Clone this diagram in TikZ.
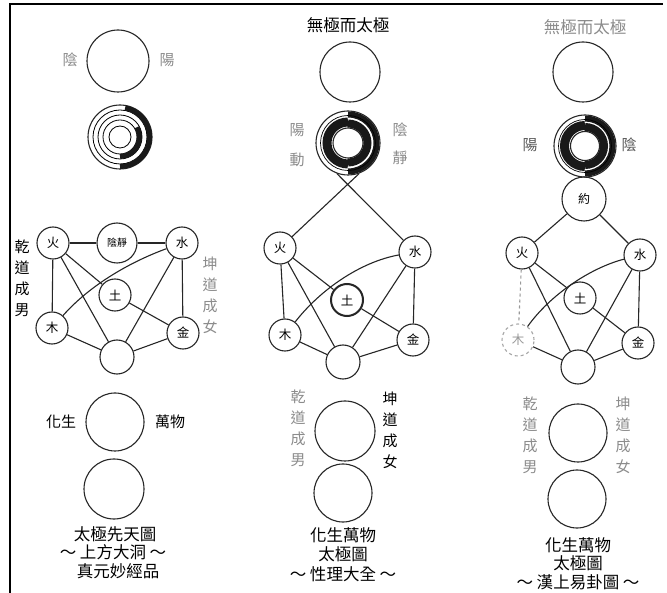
\documentclass[tikz,border=0pt]{standalone}
\usepackage{fontspec}
\newfontfamily\cjk{Noto Sans CJK TC}
\begin{document}
\begin{tikzpicture}[x=1pt,y=-1pt,
  ln/.style={line width=1.1pt,draw=black!85},
  el/.style={circle,ln,minimum size=32pt,inner sep=0pt,font=\cjk\fontsize{12.5}{12.5}\selectfont},
  bigc/.style={circle,ln,minimum size=60pt,inner sep=0pt},
  ringc/.style={circle,ln,minimum size=64pt,inner sep=0pt},
  lbl/.style={font=\cjk\fontsize{15}{15}\selectfont,inner sep=0pt},
  captext/.style={font=\cjk\fontsize{16.5}{16.5}\selectfont,inner sep=0pt},
  vlab/.style={font=\cjk\fontsize{15}{21}\selectfont,inner sep=0pt,align=center},
  faint/.style={text=black!45},
  band/.style={draw=black!90}]
\fill[white] (0,0) rectangle (667,593);
\useasboundingbox (0,0) rectangle (667,593);
% frame
\coordinate (fa) at (10,593);
\coordinate (fb) at (10,4);
\coordinate (fc) at (663,4);
\draw[line width=1.2pt] (fa) -- (fb) -- (fc);

% ================= column 1 =================
\node[bigc,minimum size=62pt] (t1) at (118,61) {};
\node[lbl,faint] (l1a) at (70,60) {陰};
\node[lbl,faint] (l1b) at (167,60) {陽};
\node[ringc] (r1) at (120,137) {};
\foreach \rr in {27,22,17,11} {\draw[line width=0.8pt] (r1.center) circle[radius=\rr];}
\draw[band,line width=5pt] (r1.center) ++(-80:29.5) arc[start angle=-80,end angle=90,radius=29.5];
\draw[band,line width=5pt] (r1.center) ++(-30:19.5) arc[start angle=-30,end angle=90,radius=19.5];

\node[el] (f1) at (53,243) {火};
\node[el,minimum size=40pt,font=\cjk\fontsize{10}{10}\selectfont] (y1) at (117,243) {陰靜};
\node[el] (s1) at (182,243) {水};
\node[el] (e1) at (115,295) {土};
\node[el] (m1) at (52,328) {木};
\node[el] (j1) at (183,333) {金};
\node[el,minimum size=34pt] (b1) at (117,357) {};
\draw[ln] (f1) -- (y1);
\draw[ln] (y1) -- (s1);
\draw[ln] (f1) -- (m1);
\draw[ln] (s1) -- (j1);
\draw[ln] (f1) -- (e1);
\draw[ln] (e1) -- (j1);
\draw[ln] (f1) -- (b1);
\draw[ln] (s1) -- (b1);
\draw[ln] (m1) -- (b1);
\draw[ln] (j1) -- (b1);
\draw[ln] (m1) .. controls (90,285) and (130,262) .. (s1);
\node[vlab] (v1a) at (22,278) {乾\\道\\成\\男};
\node[vlab,faint] (v1b) at (210,295) {坤\\道\\成\\女};

\node[bigc,minimum size=58pt] (c1a) at (115,422) {};
\node[bigc,minimum size=60pt] (c1b) at (114,489) {};
\node[lbl] (h1a) at (61,422) {化生};
\node[lbl] (h1b) at (170,422) {萬物};
\node[captext] (k1a) at (115,534) {太極先天圖};
\node[captext] (k1b) at (113,552) {～ 上方大洞 ～};
\node[captext] (k1c) at (118,571) {真元妙經品};

% ================= column 2 =================
\node[captext] (ti2) at (348,25) {無極而太極};
\node[bigc] (t2) at (350,72) {};
\node[ringc] (r2) at (348,143) {};
\draw[band,line width=9pt] (r2.center) ++(90:21) arc[start angle=90,end angle=270,radius=21];
\draw[band,line width=6pt] (r2.center) ++(90:28.5) arc[start angle=90,end angle=-90,radius=28.5];
\draw[band,line width=8pt] (r2.center) ++(90:19.5) arc[start angle=90,end angle=-90,radius=19.5];
\draw[line width=0.7pt] (r2.center) circle[radius=27.5];
\draw[ln] (r2.center) circle[radius=15];
\node[lbl,faint] (l2a) at (297,130) {陽};
\node[lbl,faint] (l2b) at (297,160) {動};
\node[lbl,faint] (l2c) at (400,130) {陰};
\node[lbl,faint] (l2d) at (400,158) {靜};

\node[el] (f2) at (280,248) {火};
\node[el] (s2) at (415,252) {水};
\node[el,line width=2pt] (e2) at (347,300) {土};
\node[el] (m2) at (285,335) {木};
\node[el] (j2) at (413,340) {金};
\node[el,minimum size=34pt] (b2) at (343,362) {};
\draw[ln] (f2) -- (r2.-70);
\draw[ln] (s2) -- (r2.-110);
\draw[ln] (f2) -- (m2);
\draw[ln] (s2) -- (j2);
\draw[ln] (f2) -- (e2);
\draw[ln] (e2) -- (j2);
\draw[ln] (f2) -- (b2);
\draw[ln] (s2) -- (b2);
\draw[ln] (m2) -- (b2);
\draw[ln] (j2) -- (b2);
\draw[ln] (m2) .. controls (320,290) and (360,262) .. (s2);

\node[bigc] (c2a) at (345,431) {};
\node[bigc,minimum size=58pt] (c2b) at (343,493) {};
\node[vlab,faint] (v2a) at (298,428) {乾\\道\\成\\男};
\node[vlab] (v2b) at (390,430) {坤\\道\\成\\女};
\node[captext] (k2a) at (343,535) {化生萬物};
\node[captext] (k2b) at (343,554) {太極圖};
\node[captext] (k2c) at (343,574) {～ 性理大全 ～};

% ================= column 3 =================
\node[captext,faint] (ti3) at (585,27) {無極而太極};
\node[bigc] (t3) at (583,72) {};
\node[ringc,minimum size=62pt] (r3) at (585,146) {};
\draw[band,line width=9pt] (r3.center) ++(90:20.5) arc[start angle=90,end angle=270,radius=20.5];
\draw[band,line width=6pt] (r3.center) ++(90:27.5) arc[start angle=90,end angle=-90,radius=27.5];
\draw[band,line width=8pt] (r3.center) ++(90:19) arc[start angle=90,end angle=-90,radius=19];
\draw[line width=0.7pt] (r3.center) circle[radius=26.5];
\draw[ln] (r3.center) circle[radius=14.5];
\node[lbl,text=black!65] (l3a) at (530,145) {陽};
\node[lbl,text=black!65] (l3b) at (629,145) {陰};
\node[el,minimum size=44pt,font=\cjk\fontsize{12}{12}\selectfont] (y3) at (584,199) {約};

\node[el] (f3) at (522,253) {火};
\node[el] (s3) at (640,255) {水};
\node[el] (e3) at (580,298) {土};
\node[el,draw=black!35,dashed,text=black!40] (m3) at (518,340) {木};
\node[el] (j3) at (638,343) {金};
\node[el,minimum size=34pt] (b3) at (578,367) {};
\draw[ln] (y3) -- (f3);
\draw[ln] (y3) -- (s3);
\draw[ln,draw=black!40,dashed] (f3) -- (m3);
\draw[ln] (s3) -- (j3);
\draw[ln] (f3) -- (e3);
\draw[ln] (e3) -- (j3);
\draw[ln] (f3) -- (b3);
\draw[ln] (s3) -- (b3);
\draw[ln] (m3) -- (b3);
\draw[ln] (j3) -- (b3);
\draw[ln] (m3) .. controls (550,295) and (590,268) .. (s3);

\node[bigc,minimum size=58pt] (c3a) at (578,433) {};
\node[bigc,minimum size=58pt] (c3b) at (577,499) {};
\node[vlab,faint] (v3a) at (530,435) {乾\\道\\成\\男};
\node[vlab,faint] (v3b) at (623,435) {坤\\道\\成\\女};
\node[captext] (k3a) at (578,545) {化生萬物};
\node[captext] (k3b) at (578,563) {太極圖};
\node[captext] (k3c) at (578,582) {～ 漢上易卦圖 ～};
\end{tikzpicture}
\end{document}
